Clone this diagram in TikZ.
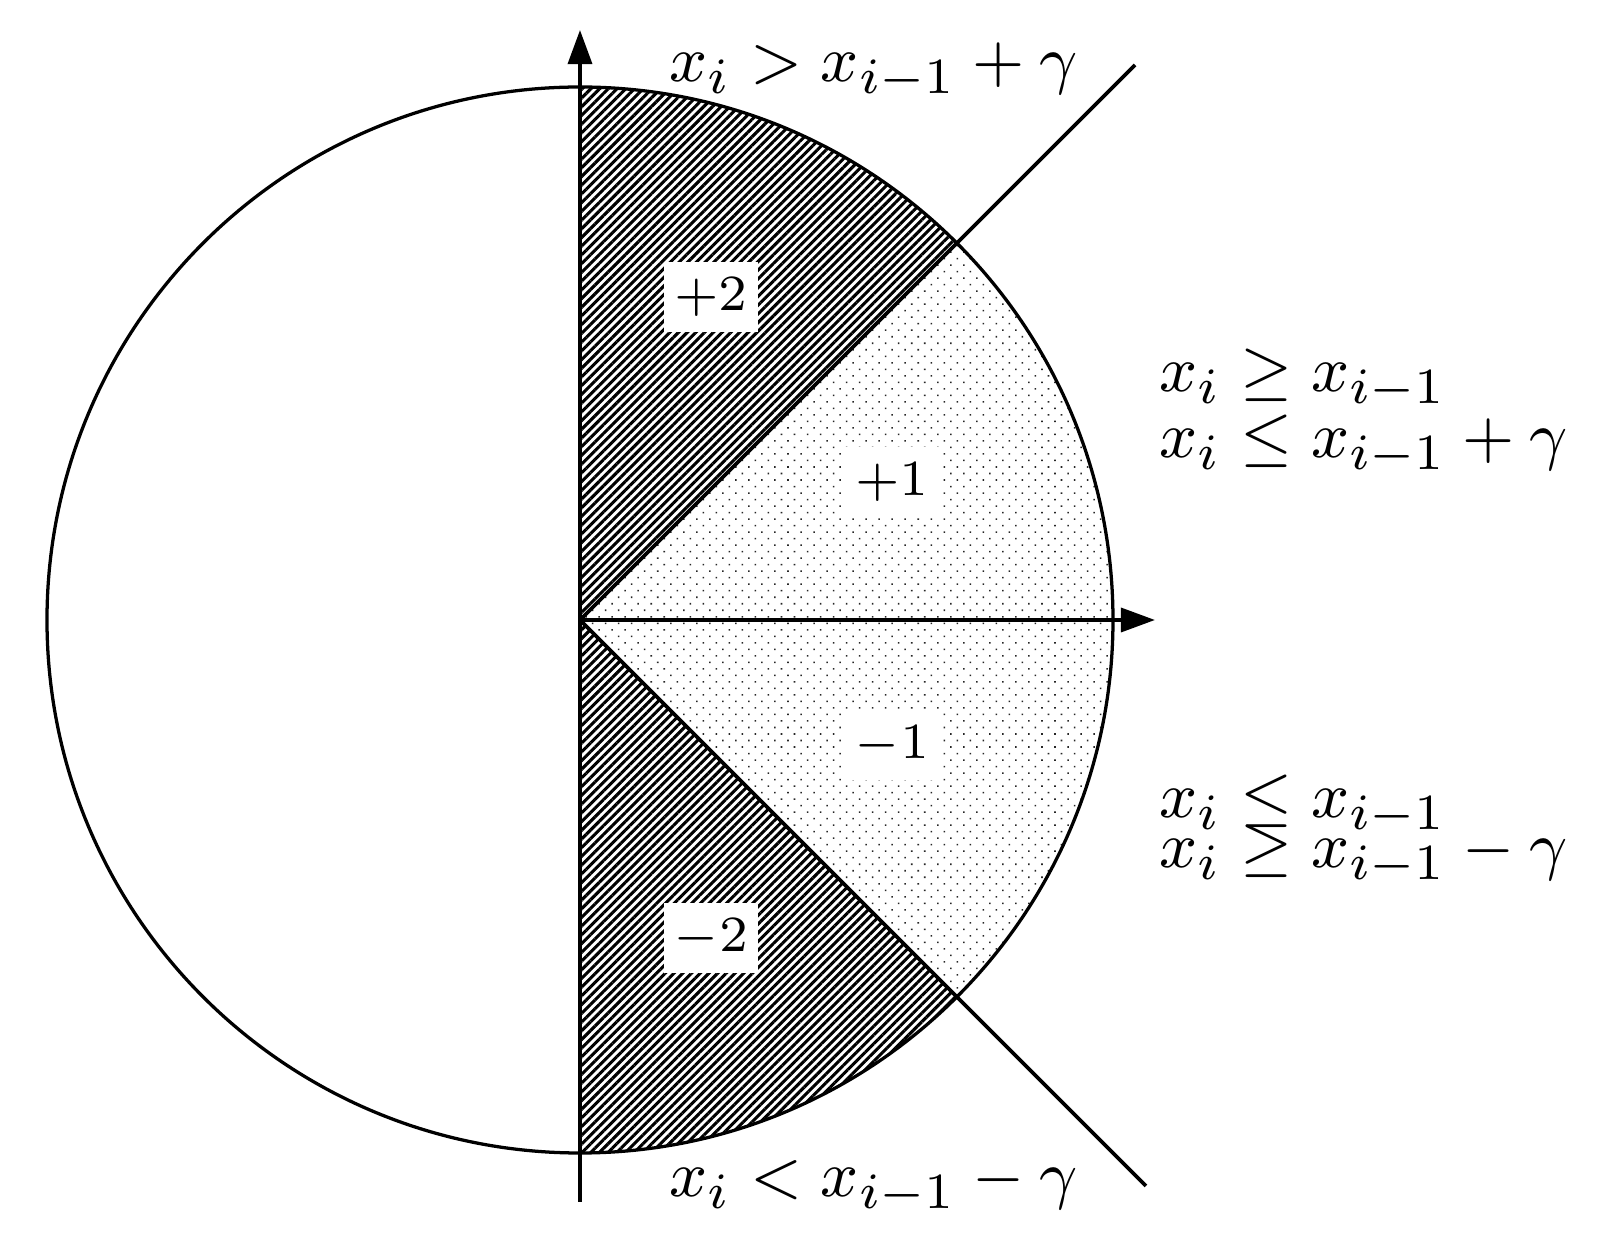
\documentclass[tikz,border=0pt]{standalone}
\usetikzlibrary{arrows.meta,patterns.meta}
\begin{document}
\begin{tikzpicture}[x=0.1379pt,y=0.1379pt,
  axis/.style={line width=0.52pt,-{Triangle[length=4.7pt,width=3.3pt]}},
  rim/.style={line width=0.45pt},
  divider/.style={line width=0.52pt},
  hatch/.style={pattern={Lines[angle=45,distance=0.85pt,line width=0.42pt]}},
  dotfill/.style={pattern={Dots[angle=45,distance=1.27pt,radius=0.15pt]},pattern color=black!85},
  numlbl/.style={fill=white,inner xsep=1.4pt,inner ysep=2.2pt,font=\fontsize{7.5}{9}\selectfont},
  cond/.style={anchor=base west,inner sep=0pt,font=\fontsize{9.5}{11}\selectfont}]
\useasboundingbox (-580,-635) rectangle (1027,620);
\coordinate (O) at (0,0);
% sectors
\fill[hatch] (O) -- (0,533) arc[start angle=90,end angle=45,radius=533] -- cycle;
\fill[dotfill] (O) -- (45:533) arc[start angle=45,end angle=-45,radius=533] -- cycle;
\fill[hatch] (O) -- (-45:533) arc[start angle=-45,end angle=-90,radius=533] -- cycle;
% circle
\draw[rim] (O) circle[radius=533];
% dividers
\coordinate (ue) at (555,555);
\coordinate (le) at (566,-566);
\draw[divider] (O) -- (ue);
\draw[divider] (O) -- (le);
% axes
\coordinate (yb) at (0,-582);
\coordinate (yt) at (0,590);
\coordinate (xt) at (575,0);
\draw[axis] (yb) -- (yt);
\draw[axis] (O) -- (xt);
% region labels
\node[numlbl] (p2) at (131,323) {$+2$};
\node[numlbl] (p1) at (312,138) {$+1$};
\node[numlbl] (m1) at (312,-125) {$-1$};
\node[numlbl] (m2) at (131,-318) {$-2$};
% conditions
\node[cond] (ctop) at (88,538) {$x_i > x_{i-1} + \gamma$};
\node[cond] (cu1) at (578,228) {$x_i \geq x_{i-1}$};
\node[cond] (cu2) at (578,162) {$x_i \leq x_{i-1} + \gamma$};
\node[cond] (cl1) at (578,-198) {$x_i \leq x_{i-1}$};
\node[cond] (cl2) at (578,-248) {$x_i \geq x_{i-1} - \gamma$};
\node[cond] (cbot) at (88,-577) {$x_i < x_{i-1} - \gamma$};
\end{tikzpicture}
\end{document}
